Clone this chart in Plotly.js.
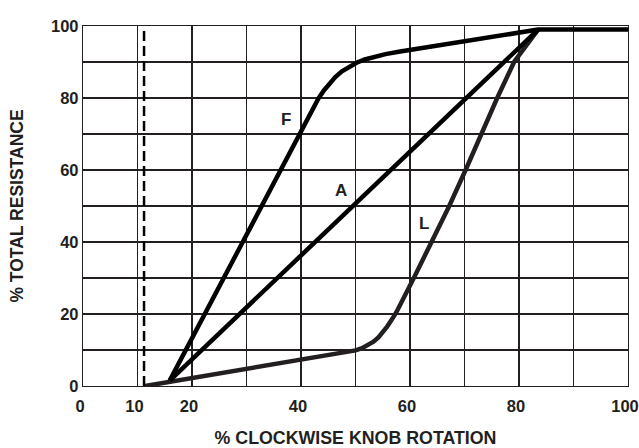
<!DOCTYPE html>
<html>
<head>
<meta charset="utf-8">
<script src="https://cdn.plot.ly/plotly-3.0.1.min.js"></script>
<style>html,body{margin:0;padding:0;background:#fff;}#chart{width:639px;height:448px;}</style>
</head>
<body>
<div id="chart"></div>
<script>
// Taper F
const fX = [15.9, 39.8, 40.6, 41.4, 42.3, 43.2, 44.2, 45.2, 46.3, 47.5, 48.8, 50.2, 51.7, 53.4, 55.5, 58.2, 83.5, 100];
const fY = [1.5, 70, 72.6, 75.1, 77.6, 79.9, 82.1, 84.0, 85.8, 87.4, 88.7, 89.8, 90.7, 91.5, 92.2, 92.9, 99, 99];
// Taper A
const aX = [15.9, 83.5];
const aY = [1.5, 99];
// Taper L
const lX = [11.4, 47.0, 48.6, 50.0, 51.2, 52.3, 53.3, 54.2, 55.0, 55.8, 56.6, 57.5, 60.7, 64.0, 67.2, 70.2, 73.0, 76.0, 79.1, 83.5];
const lY = [0, 8.9, 9.4, 9.9, 10.5, 11.3, 12.3, 13.5, 14.9, 16.5, 18.3, 20.5, 30, 40, 50, 60, 70, 80, 90, 99];
// Switch position
const switchX = 11.2;
const switchY = [0, 100];
// Ticks
const xTickVals = [0, 10, 20, 30, 40, 50, 60, 70, 80, 90, 100];
const xTickText = ['0', '10', '20', '', '40', '', '60', '', '80', '', '100'];
const yTickVals = [0, 10, 20, 30, 40, 50, 60, 70, 80, 90, 100];
const yTickText = ['0', '', '20', '', '40', '', '60', '', '80', '', '100'];
// Labels
const curveLabels = ['F', 'A', 'L'];
const labelX = [37.2, 47.3, 62.6];
const labelY = [74.1, 54.2, 45.2];
const switchLabel = 'Switch on-off';

const ink = '#231f20';
const fontFam = 'Liberation Sans, Arial, Helvetica, sans-serif';

const traces = [
  {x: [switchX, switchX], y: switchY, mode: 'lines', line: {color: '#000', width: 2.5, dash: '10px,5px'}, hoverinfo: 'skip'},
  {x: lX, y: lY, mode: 'lines', line: {color: ink, width: 4.5}},
  {x: aX, y: aY, mode: 'lines', line: {color: '#000', width: 4.5}},
  {x: fX, y: fY, mode: 'lines', line: {color: '#000', width: 4.5}}
];

const annotations = curveLabels.map((t, i) => ({
  x: labelX[i], y: labelY[i], xref: 'x', yref: 'y', text: t, showarrow: false,
  font: {family: fontFam, size: 17, color: ink, weight: 'bold'}
}));
annotations.push({
  x: 20.7, y: 102.6, xref: 'x', yref: 'y', text: switchLabel, showarrow: false,
  font: {family: fontFam, size: 17, color: ink, weight: 'bold'}
});

const layout = {
  width: 639, height: 448,
  margin: {l: 83, r: 11, t: 26, b: 62},
  paper_bgcolor: '#fff', plot_bgcolor: '#fff',
  showlegend: false,
  font: {family: fontFam, color: ink},
  xaxis: {
    range: [0, 100], tickvals: xTickVals, ticktext: xTickText,
    showgrid: true, gridcolor: ink, gridwidth: 1.2,
    showline: true, linecolor: ink, linewidth: 1.2, mirror: true,
    zeroline: false, ticks: '', ticklabelstandoff: 5, ticklabelshift: -3, ticklabeloverflow: 'allow',
    tickfont: {family: fontFam, size: 16.5, color: ink, weight: 'bold'},
    title: {text: '% CLOCKWISE KNOB ROTATION', standoff: 32, font: {family: fontFam, size: 17.8, color: ink, weight: 'bold'}}
  },
  yaxis: {
    range: [0, 100], tickvals: yTickVals, ticktext: yTickText,
    showgrid: true, gridcolor: ink, gridwidth: 1.2,
    showline: true, linecolor: ink, linewidth: 1.2, mirror: true,
    zeroline: false, ticks: '', ticklabeloverflow: 'allow',
    tickfont: {family: fontFam, size: 16.5, color: ink, weight: 'bold'},
    title: {text: '% TOTAL RESISTANCE', standoff: 22, font: {family: fontFam, size: 17.5, color: ink, weight: 'bold'}}
  },
  annotations: annotations
};

Plotly.newPlot('chart', traces, layout, {displayModeBar: false, staticPlot: true});
</script>
</body>
</html>
